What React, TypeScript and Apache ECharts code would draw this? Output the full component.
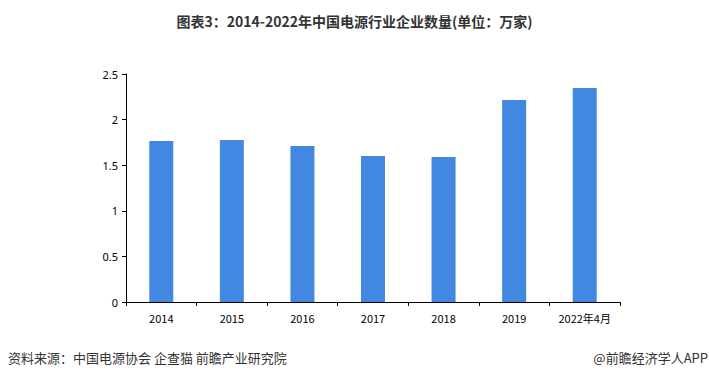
import React, { useEffect, useRef } from "react";
import * as echarts from "echarts";

const categories = ["2014", "2015", "2016", "2017", "2018", "2019", "2022年4月"];
const values = [1.765, 1.776, 1.71, 1.6, 1.59, 2.215, 2.347];
const yTicks = [0, 0.5, 1, 1.5, 2, 2.5];

export default function App() {
  const ref = useRef<HTMLDivElement>(null);
  useEffect(() => {
    const chart = echarts.init(ref.current!, null, { renderer: "svg" });
    chart.setOption({
      animation: false,
      backgroundColor: "#ffffff",
      title: {
        text: "图表3：2014-2022年中国电源行业企业数量(单位：万家)",
        left: "center",
        top: 9,
        textStyle: { fontSize: 14, fontWeight: "bold", color: "#333333", fontFamily: "Noto Sans CJK SC" },
      },
      graphic: [
        {
          type: "text",
          left: 8,
          top: 351,
          style: { text: "资料来源：中国电源协会 企查猫 前瞻产业研究院", fontSize: 13, fill: "#333333", fontFamily: "Noto Sans CJK SC" },
        },
        {
          type: "text",
          right: 1,
          top: 351,
          style: { text: "@前瞻经济学人APP", fontSize: 13, fill: "#333333", fontFamily: "Noto Sans CJK SC" },
        },
      ],
      grid: { left: 126, right: 89, top: 74, bottom: 80 },
      xAxis: {
        type: "category",
        data: categories,
        axisLine: { lineStyle: { color: "#000000", width: 1 } },
        axisTick: { show: true, alignWithLabel: false, length: 4, lineStyle: { color: "#000000" } },
        axisLabel: { color: "#000000", fontSize: 11, margin: 10, fontFamily: "Noto Sans CJK SC" },
      },
      yAxis: {
        type: "value",
        min: yTicks[0],
        max: yTicks[yTicks.length - 1],
        interval: 0.5,
        axisLine: { show: true, lineStyle: { color: "#000000", width: 1 } },
        axisTick: { show: true, length: 4, lineStyle: { color: "#000000" } },
        axisLabel: { color: "#000000", fontSize: 11, margin: 8, fontFamily: "Noto Sans" },
        splitLine: { show: false },
      },
      series: [
        {
          type: "bar",
          data: values,
          barWidth: 24,
          itemStyle: { color: "#4287E0" },
        },
      ],
    });
    return () => chart.dispose();
  }, []);
  return <div ref={ref} style={{ width: 709, height: 382, position: "absolute", left: 0, top: 0 }} />;
}
